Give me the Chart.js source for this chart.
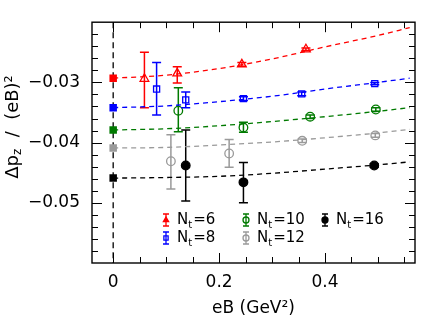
<!DOCTYPE html>
<html>
<head>
<meta charset="utf-8">
<script src="https://cdn.jsdelivr.net/npm/chart.js@4.4.1/dist/chart.umd.min.js"></script>
<style>
  html, body { margin: 0; padding: 0; background: #fff; }
  #wrap { width: 425px; height: 323px; }
</style>
</head>
<body>
<div id="wrap"><canvas id="c"></canvas></div>
<script>
// --- datos ---
const xTicks = [0, 0.2, 0.4];
const xTickLabels = ['0', '0.2', '0.4'];
const yTicks = [-0.03, -0.04, -0.05];
const yTickLabels = ['−0.03', '−0.04', '−0.05'];

// curvas de ajuste
const fitX = [0, 0.1, 0.2, 0.3, 0.4, 0.5, 0.56];
const fit6 = [-0.0293, -0.0288, -0.0277, -0.0261, -0.0241, -0.0222, -0.0209];
const fit8 = [-0.0342, -0.0339, -0.0332, -0.0323, -0.0311, -0.0300, -0.0293];
const fit10 = [-0.0379, -0.0377, -0.0372, -0.0365, -0.0357, -0.0348, -0.0342];
const fit12 = [-0.0409, -0.0408, -0.0404, -0.0399, -0.0392, -0.0384, -0.0378];
const fit16 = [-0.0459, -0.0458, -0.0456, -0.0451, -0.0444, -0.0437, -0.0432];

// valores en eB = 0
const contY = [-0.0293, -0.0342, -0.0379, -0.0409, -0.0459];

// puntos con errores
const nt6X = [0.059, 0.121, 0.243, 0.364];
const nt6Y = [-0.0294, -0.0285, -0.0270, -0.0245];
const nt6Lo = [-0.0342, -0.0301, -0.0273, -0.0247];
const nt6Hi = [-0.0250, -0.0274, -0.0267, -0.0243];

const nt8X = [0.082, 0.137, 0.246, 0.356, 0.494];
const nt8Y = [-0.0311, -0.0329, -0.0327, -0.0319, -0.0302];
const nt8Lo = [-0.0354, -0.0342, -0.0330, -0.0322, -0.0304];
const nt8Hi = [-0.0267, -0.0316, -0.0324, -0.0316, -0.0300];

const nt10X = [0.123, 0.246, 0.372, 0.496];
const nt10Y = [-0.0347, -0.0375, -0.0357, -0.0345];
const nt10Lo = [-0.0382, -0.0383, -0.0360, -0.0348];
const nt10Hi = [-0.0309, -0.0366, -0.0354, -0.0342];

const nt12X = [0.109, 0.219, 0.357, 0.495];
const nt12Y = [-0.0431, -0.0418, -0.0397, -0.0388];
const nt12Lo = [-0.0477, -0.0441, -0.0400, -0.0391];
const nt12Hi = [-0.0387, -0.0395, -0.0394, -0.0385];

const nt16X = [0.137, 0.246, 0.493];
const nt16Y = [-0.0438, -0.0466, -0.0438];
const nt16Lo = [-0.0497, -0.0500, -0.0441];
const nt16Hi = [-0.0379, -0.0433, -0.0435];

const colors = ['#ff0000', '#0000ff', '#007a00', '#9a9a9a', '#000000'];
const ntLabels = ['6', '8', '10', '12', '16'];

const pts = (xs, ys) => xs.map((x, i) => ({ x, y: ys[i] }));

function fitSet(ys, color) {
    return {
        data: pts(fitX, ys), showLine: true, pointRadius: 0,
        borderColor: color, borderWidth: 1.3, borderDash: [5, 4],
        cubicInterpolationMode: 'monotone'
    };
}
function latSet(xs, ys, lo, hi, color, style, filled) {
    return {
        data: pts(xs, ys), errLo: lo, errHi: hi, pointStyle: style, filled,
        pointRadius: style === 'triangle' ? 5 : 4.3, borderColor: color, pointBorderWidth: 1.3,
        pointBackgroundColor: filled ? color : 'rgba(0,0,0,0)', showLine: false
    };
}

const latSets = [
    latSet(nt6X, nt6Y, nt6Lo, nt6Hi, colors[0], 'triangle', false),
    latSet(nt8X, nt8Y, nt8Lo, nt8Hi, colors[1], 'rect', false),
    latSet(nt10X, nt10Y, nt10Lo, nt10Hi, colors[2], 'circle', false),
    latSet(nt12X, nt12Y, nt12Lo, nt12Hi, colors[3], 'circle', false),
    latSet(nt16X, nt16Y, nt16Lo, nt16Hi, colors[4], 'circle', true)
];
const legendFilled = [true, false, false, false, true];

// --- plugins ---
const errorBars = {
    id: 'errorBars',
    beforeDatasetDraw(chart, args) {
        const ds = chart.data.datasets[args.index];
        if (!ds.errLo) return;
        const { ctx, scales: { x, y } } = chart;
        ctx.save();
        ctx.strokeStyle = ds.borderColor;
        ctx.lineWidth = 1.5;
        ds.data.forEach((p, i) => {
            const px = x.getPixelForValue(p.x);
            const lo = y.getPixelForValue(ds.errLo[i]);
            const hi = y.getPixelForValue(ds.errHi[i]);
            ctx.beginPath();
            ctx.moveTo(px, lo); ctx.lineTo(px, hi);
            ctx.moveTo(px - 4.5, lo); ctx.lineTo(px + 4.5, lo);
            ctx.moveTo(px - 4.5, hi); ctx.lineTo(px + 4.5, hi);
            ctx.stroke();
        });
        ctx.restore();
    }
};

const frame = {
    id: 'frame',
    beforeDatasetsDraw(chart) {
        const { ctx, chartArea: a, scales: { x } } = chart;
        const px = x.getPixelForValue(0);
        ctx.save();
        ctx.strokeStyle = '#000'; ctx.lineWidth = 1.3; ctx.setLineDash([6, 4]);
        ctx.beginPath(); ctx.moveTo(px, a.top); ctx.lineTo(px, a.bottom); ctx.stroke();
        ctx.restore();
    },
    afterDraw(chart) {
        const { ctx, chartArea: a, scales: { x, y } } = chart;
        ctx.save();
        ctx.strokeStyle = '#000'; ctx.lineWidth = 1;
        ctx.beginPath();
        for (let k = 0; k * 0.05 <= x.max + 1e-9; k++) {
            const v = k * 0.05;
            const len = xTicks.some(t => Math.abs(t - v) < 1e-9) ? 10 : 6;
            const px = Math.round(x.getPixelForValue(v)) + 0.5;
            ctx.moveTo(px, a.bottom); ctx.lineTo(px, a.bottom - len);
            ctx.moveTo(px, a.top); ctx.lineTo(px, a.top + len);
        }
        for (let k = -29; k <= -11; k++) {
            const v = k * 0.002;
            const len = yTicks.some(t => Math.abs(t - v) < 1e-9) ? 10 : 6;
            const py = Math.round(y.getPixelForValue(v)) + 0.5;
            ctx.moveTo(a.left, py); ctx.lineTo(a.left + len, py);
            ctx.moveTo(a.right, py); ctx.lineTo(a.right - len, py);
        }
        ctx.stroke();
        ctx.lineWidth = 1.4;
        ctx.strokeRect(a.left, a.top, a.right - a.left, a.bottom - a.top);

        // título eje y
        ctx.fillStyle = '#000';
        ctx.translate(13, 127);
        ctx.rotate(-Math.PI / 2);
        ctx.textBaseline = 'middle';
        const big = '18px "DejaVu Sans"', small = '12px "DejaVu Sans"';
        const parts = [['Δp', big, 0], ['z', small, 5], ['  /  (eB)²', big, 0]];
        let w = 0;
        parts.forEach(([t, f]) => { ctx.font = f; w += ctx.measureText(t).width; });
        let cx = -w / 2;
        parts.forEach(([t, f, dy]) => { ctx.font = f; ctx.fillText(t, cx, dy); cx += ctx.measureText(t).width; });
        ctx.restore();

        // leyenda
        const slots = [[166, 220], [166, 238], [246, 220], [246, 238], [325, 220]];
        ctx.save();
        latSets.forEach((ds, i) => {
            const [mx, my] = slots[i];
            ctx.strokeStyle = ds.borderColor; ctx.lineWidth = 1.3;
            ctx.beginPath();
            ctx.moveTo(mx, my - 6); ctx.lineTo(mx, my + 6);
            ctx.moveTo(mx - 3, my - 6); ctx.lineTo(mx + 3, my - 6);
            ctx.moveTo(mx - 3, my + 6); ctx.lineTo(mx + 3, my + 6);
            ctx.stroke();
            ctx.fillStyle = legendFilled[i] ? ds.borderColor : 'rgba(0,0,0,0)';
            Chart.helpers.drawPoint(ctx, {
                pointStyle: ds.pointStyle, radius: 3, borderWidth: 1.2
            }, mx, my);
            ctx.fillStyle = '#000';
            ctx.textBaseline = 'middle';
            let tx = mx + 11;
            ctx.font = '15px "DejaVu Sans"';
            ctx.fillText('N', tx, my); tx += ctx.measureText('N').width;
            ctx.font = '10px "DejaVu Sans"';
            ctx.fillText('t', tx, my + 5); tx += ctx.measureText('t').width + 1;
            ctx.font = '15px "DejaVu Sans"';
            ctx.fillText('=' + ntLabels[i], tx, my);
        });
        ctx.restore();
    }
};

// --- gráfico ---
Chart.defaults.font.family = '"DejaVu Sans"';
Chart.defaults.color = '#000';

new Chart(document.getElementById('c'), {
    type: 'scatter',
    data: {
        datasets: [
            fitSet(fit6, colors[0]), fitSet(fit8, colors[1]), fitSet(fit10, colors[2]),
            fitSet(fit12, colors[3]), fitSet(fit16, colors[4]),
            {
                data: contY.map(y => ({ x: 0, y })), pointStyle: 'rect', pointRadius: 5.3,
                pointBackgroundColor: colors, pointBorderColor: colors, pointBorderWidth: 0
            },
            ...latSets
        ]
    },
    options: {
        responsive: true, maintainAspectRatio: false, animation: false,
        layout: { padding: { top: 17, right: 10, left: 0, bottom: 0 } },
        plugins: { legend: { display: false }, tooltip: { enabled: false } },
        scales: {
            x: {
                type: 'linear', min: -0.04, max: 0.57,
                grid: { display: false, drawTicks: false }, border: { display: false },
                afterBuildTicks: s => { s.ticks = xTicks.map(v => ({ value: v })); },
                afterFit: s => { s.height = 60; },
                ticks: {
                    font: { size: 17 }, padding: 9, maxRotation: 0,
                    callback: v => xTickLabels[xTicks.indexOf(v)]
                },
                title: { display: true, text: 'eB (GeV²)', font: { size: 17 }, padding: { top: 0, bottom: 4 } }
            },
            y: {
                type: 'linear', min: -0.06, max: -0.02,
                grid: { display: false, drawTicks: false }, border: { display: false },
                afterBuildTicks: s => { s.ticks = yTicks.map(v => ({ value: v })); },
                afterFit: s => { s.width = 92; },
                ticks: {
                    font: { size: 17 }, padding: 12,
                    callback: v => yTickLabels[yTicks.indexOf(v)]
                }
            }
        }
    },
    plugins: [errorBars, frame]
});
</script>
</body>
</html>
